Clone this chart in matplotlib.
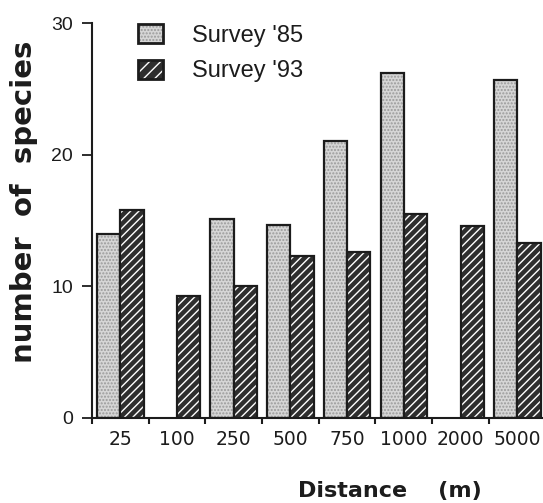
import numpy as np
import matplotlib
matplotlib.use("Agg")
import matplotlib.pyplot as plt
from matplotlib.patches import Patch

categories = ['25', '100', '250', '500', '750', '1000', '2000', '5000']
survey_85 = [14.0, np.nan, 15.1, 14.7, 21.1, 26.2, np.nan, 25.7]
survey_93 = [15.8, 9.3, 10.0, 12.3, 12.6, 15.5, 14.6, 13.3]
labels = ["Survey '85", "Survey '93"]

ink = '#1c1c1c'
light = '#d6d6d6'
dark = '#2e2e2e'

plt.rcParams['font.family'] = ['Liberation Sans', 'DejaVu Sans']

fig = plt.figure(figsize=(5.43, 5.03), dpi=100)
ax = fig.add_axes([0.1694, 0.169, 0.8354, 0.7843])

x = np.arange(len(categories))
w = 0.41

# light stippled bars
ax.bar(x - w / 2, survey_85, w, color=light, hatch='.....', edgecolor='#9a9a9a', linewidth=0)
ax.bar(x - w / 2, survey_85, w, fill=False, edgecolor=ink, linewidth=1.6)
# dark bars with white diagonal stripes
ax.bar(x + w / 2, survey_93, w, color=dark, hatch='////', edgecolor='white', linewidth=0)
ax.bar(x + w / 2, survey_93, w, fill=False, edgecolor=ink, linewidth=1.6)

ax.set_xlim(-0.5, 7.5)
ax.set_ylim(0, 30)
ax.set_yticks([0, 10, 20, 30])
ax.tick_params(axis='y', length=7.5, width=1.3, pad=6, labelsize=14, colors=ink)

ax.set_xticks(np.arange(-0.5, 7, 1.0))
ax.set_xticklabels([])
ax.tick_params(axis='x', which='major', length=4, width=1.5, colors=ink)
ax.set_xticks(x, minor=True)
ax.set_xticklabels(categories, minor=True, family='DejaVu Sans', fontsize=13.5, color=ink)
ax.tick_params(axis='x', which='minor', length=0, pad=9)

for side in ['top', 'right']:
    ax.spines[side].set_visible(False)
for side in ['left', 'bottom']:
    ax.spines[side].set_linewidth(1.5)
    ax.spines[side].set_color(ink)

ax.set_ylabel('number  of  species', family='DejaVu Sans', fontweight='bold', fontsize=21,
              color=ink, va='center')
ax.yaxis.set_label_coords(0.045, 0.598, transform=fig.transFigure)
ax.set_xlabel('Distance    (m)', family='DejaVu Sans', fontweight='bold', fontsize=16,
              color=ink, va='center')
ax.xaxis.set_label_coords(0.718, 0.024, transform=fig.transFigure)

h85 = (Patch(facecolor=light, hatch='.....', edgecolor='#9a9a9a', linewidth=0),
       Patch(fill=False, edgecolor=ink, linewidth=2))
h93 = (Patch(facecolor=dark, hatch='///', edgecolor='white', linewidth=0),
       Patch(fill=False, edgecolor=ink, linewidth=2))
leg = ax.legend([h85, h93], labels, loc='upper left', bbox_to_anchor=(0.255, 0.952),
                bbox_transform=fig.transFigure, frameon=False, fontsize=17,
                handlelength=1.06, handleheight=0.85, handletextpad=1.2,
                labelspacing=0.55, borderpad=0, borderaxespad=0)
for t in leg.get_texts():
    t.set_color(ink)

fig.savefig('out.png', dpi=100)
